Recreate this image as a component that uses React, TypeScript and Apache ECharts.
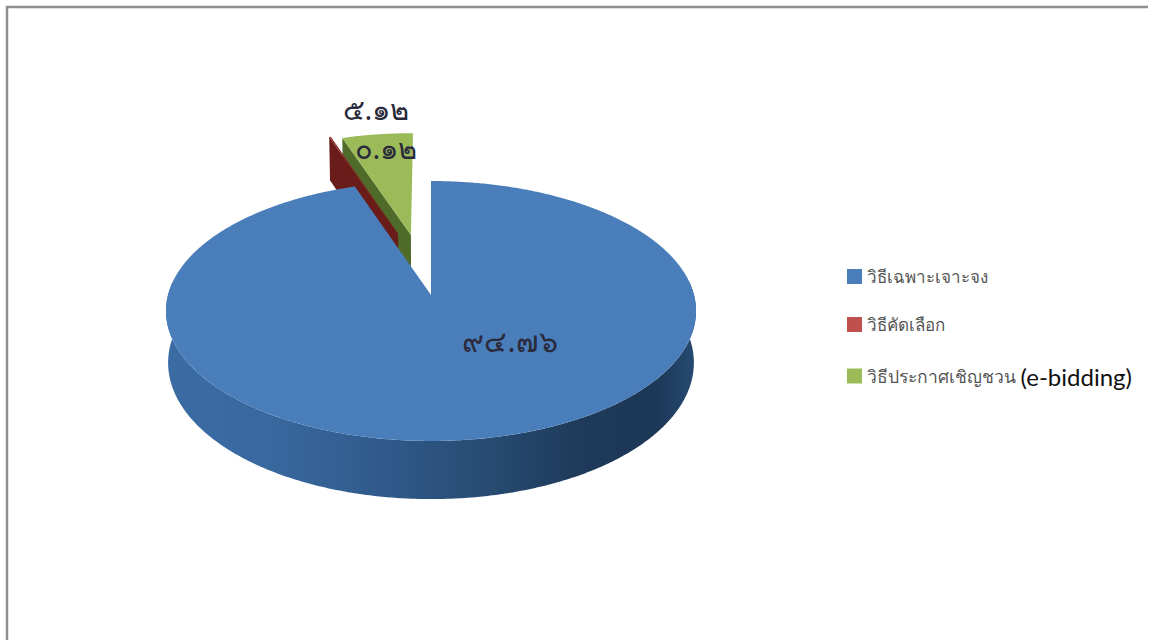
import React, { useEffect, useRef } from "react";
import * as echarts from "echarts";

const categories = ["วิธีเฉพาะเจาะจง", "วิธีคัดเลือก", "วิธีประกาศเชิญชวน (e-bidding)"];
const shares = [94.76, 0.12, 5.12];
const valueLabels = ["๙๔.๗๖", "๐.๑๒", "๕.๑๒"];
const topColors = ["#4a7ebb", "#8c2a28", "#9bbb59"];
const legendColors = ["#4a7ebb", "#c0504d", "#9bbb59"];
const wallColors = ["#2f5a8a", "#6a1c1a", "#4f6b2a"];
const explodeOffsets = [
  [0, 0],
  [-0.133, -0.508],
  [-0.081, -0.497],
];
const labelBoxes = [
  [510, 340, 30],
  [386, 147, 29],
  [376, 108, 29],
];
const seriesZ = [5, 3, 2];

// perspective projection of the pie's plane onto the screen
const CX = 431;
const CY = 295;
const A = 263;
const B = 128;
const K = -0.123;
const DEPTH = 51;
const BOTTOM_SHRINK = 0.992;

function project(U: number, V: number, low: boolean): number[] {
  const w = 1 + K * V;
  const s = low ? BOTTOM_SHRINK : 1;
  return [CX + (A * U * s) / w, CY + (B * V + (low ? DEPTH : 0)) / w];
}

const total = shares.reduce((a, b) => a + b, 0);

function sliceAngles(i: number): number[] {
  let start = 0;
  for (let j = 0; j < i; j++) start += shares[j];
  return [(start / total) * 360, ((start + shares[i]) / total) * 360];
}

function arcPts(i: number, from: number, to: number, low: boolean): number[][] {
  const [ou, ov] = explodeOffsets[i];
  const pts: number[][] = [];
  const n = Math.max(2, Math.ceil(Math.abs(to - from) * 2));
  for (let k = 0; k <= n; k++) {
    const d = ((from + ((to - from) * k) / n) * Math.PI) / 180;
    pts.push(project(ou + Math.sin(d), ov - Math.cos(d), low));
  }
  return pts;
}

const blueWallGradient = () =>
  new echarts.graphic.LinearGradient(0, 0, 1, 0, [
    { offset: 0, color: "#3a6ba3" },
    { offset: 0.2, color: "#38689e" },
    { offset: 0.42, color: "#30598a" },
    { offset: 0.62, color: "#264a70" },
    { offset: 0.78, color: "#1f3a5a" },
    { offset: 0.92, color: "#1d3756" },
    { offset: 1, color: "#264a72" },
  ]);

function renderSlice(i: number) {
  return () => {
    const [a0, a1] = sliceAngles(i);
    const [ou, ov] = explodeOffsets[i];
    const apexTop = project(ou, ov, false);
    const apexLow = project(ou, ov, true);
    const children: any[] = [];
    const poly = (points: number[][], fill: any) => ({
      type: "polygon",
      shape: { points },
      style: { fill, stroke: "none" },
    });
    if (i === 0) {
      // the outer wall facing the viewer
      const wallTop = arcPts(i, 84, 276, false);
      const wallLow = arcPts(i, 84, 276, true);
      children.push(poly([...wallTop, ...wallLow.reverse()], blueWallGradient()));
    } else {
      // radial cut wall on the front-left side
      const r = (a0 * Math.PI) / 180;
      const outerTop = project(ou + Math.sin(r), ov - Math.cos(r), false);
      const outerLow = project(ou + Math.sin(r), ov - Math.cos(r), true);
      children.push(poly([outerTop, apexTop, apexLow, outerLow], wallColors[i]));
    }
    const top = arcPts(i, a0, a1, false);
    children.push(poly([apexTop, ...top], topColors[i]));
    return { type: "group", children };
  };
}

export default function App() {
  const ref = useRef<HTMLDivElement>(null);
  useEffect(() => {
    const chart = echarts.init(ref.current!, null, { renderer: "svg" });
    chart.setOption({
      animation: false,
      backgroundColor: "#ffffff",
      legend: {
        orient: "vertical",
        left: 842,
        top: 263,
        itemWidth: 15,
        itemHeight: 15,
        itemGap: 31,
        icon: "rect",
        selectedMode: false,
        data: categories.map((name, i) => ({ name, itemStyle: { color: legendColors[i] } })),
        textStyle: {
          fontFamily: "'Noto Sans', 'DejaVu Sans', sans-serif",
          fontSize: 17,
          color: "#555555",
          rich: {
            t: { fontFamily: "'Noto Sans', 'DejaVu Sans', sans-serif", fontSize: 17.5, lineHeight: 17, color: "#555555" },
            e: { fontFamily: "Lato, sans-serif", fontSize: 24, lineHeight: 17, color: "#111111" },
          },
        },
        formatter: (name: string) => {
          const m = name.match(/^(.*)(\(e-bidding\))$/);
          return m ? `{t|${m[1]}}{e|${m[2]}}` : name;
        },
      },
      graphic: [
        {
          type: "polyline",
          shape: { points: [[7, 640], [7, 7], [1148, 7]] },
          style: { stroke: "#8e8e8e", lineWidth: 2.5, fill: "none" },
          z: 0,
        },
        ...valueLabels.map((t, i) => ({
          type: "text",
          x: labelBoxes[i][0],
          y: labelBoxes[i][1],
          z: 20,
          style: {
            text: t,
            fill: "#2a2a3a",
            fontFamily: "'Noto Sans', 'DejaVu Sans', sans-serif",
            fontSize: labelBoxes[i][2],
            align: "center",
            verticalAlign: "middle",
          },
        })),
      ],
      series: categories.map((name, i) => ({
        type: "custom",
        name,
        coordinateSystem: "none",
        z: seriesZ[i],
        itemStyle: { color: topColors[i] },
        data: [shares[i]],
        renderItem: renderSlice(i),
      })),
    });
    return () => chart.dispose();
  }, []);
  return <div ref={ref} style={{ position: "fixed", left: 0, top: 0, width: 1155, height: 640 }} />;
}
